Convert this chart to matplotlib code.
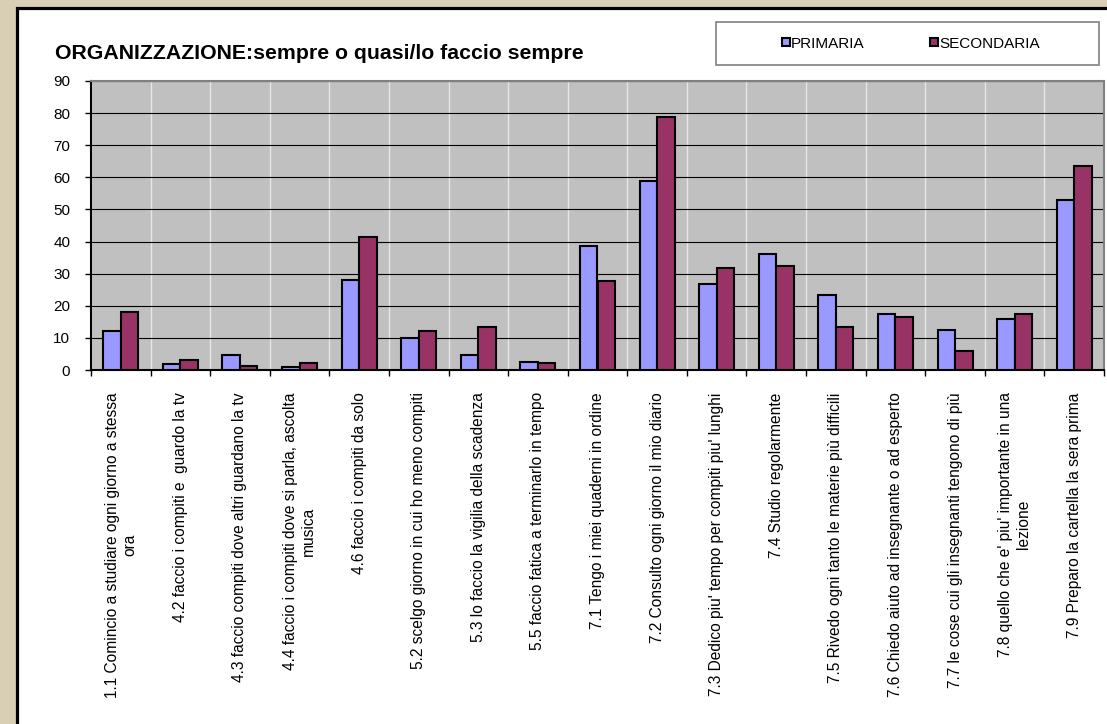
import matplotlib
matplotlib.use("Agg")
import matplotlib.pyplot as plt
from matplotlib.patches import Rectangle
import numpy as np

plt.rcParams['font.family'] = ['Liberation Sans', 'DejaVu Sans']

categories = [
    "1.1 Comincio a studiare ogni giorno a stessa\nora",
    "4.2 faccio i compiti e  guardo la tv",
    "4.3 faccio compiti dove altri guardano la tv",
    "4.4 faccio i compiti dove si parla, ascolta\nmusica",
    "4.6 faccio i compiti da solo",
    "5.2 scelgo giorno in cui ho meno compiti",
    "5.3 lo faccio la vigilia della scadenza",
    "5.5 faccio fatica a terminarlo in tempo",
    "7.1 Tengo i miei quaderni in ordine",
    "7.2 Consulto ogni giorno il mio diario",
    "7.3 Dedico piu' tempo per compiti piu' lunghi",
    "7.4 Studio regolarmente",
    "7.5 Rivedo ogni tanto le materie più difficili",
    "7.6 Chiedo aiuto ad insegnante o ad esperto",
    "7.7 le cose cui gli insegnanti tengono di più",
    "7.8 quello che e' piu' importante in una\nlezione",
    "7.9 Preparo la cartella la sera prima",
]
primaria = [12, 2, 4.6, 1, 28, 10, 4.6, 2.6, 38.7, 59, 26.7, 36, 23.4, 17.3, 12.5, 16, 53]
secondaria = [18, 3, 1.2, 2.1, 41.5, 12, 13.3, 2.1, 27.8, 78.7, 31.7, 32.5, 13.4, 16.6, 5.9, 17.3, 63.6]
series_names = ["PRIMARIA", "SECONDARIA"]
title = "ORGANIZZAZIONE:sempre o quasi/lo faccio sempre"
yticks = [0, 10, 20, 30, 40, 50, 60, 70, 80, 90]

W, H = 1107, 724
fig = plt.figure(figsize=(W / 100, H / 100), dpi=100)
fig.patch.set_facecolor('#d8cfb4')

# white chart panel with black frame
panel = Rectangle((16.5 / W, -0.1), 1.2, 1 - 8 / H + 0.1, transform=fig.transFigure,
                  facecolor='white', edgecolor='black', linewidth=2.3, zorder=-10)
fig.patches.append(panel)

left, right, top, bottom = 91, 1104, 81, 370
ax = fig.add_axes([left / W, 1 - bottom / H, (right - left) / W, (bottom - top) / H])
ax.set_facecolor('#c0c0c0')

x = np.arange(len(categories))
bw = 0.294
b1 = ax.bar(x - bw / 2, primaria, bw, color='#9999ff', edgecolor='black', linewidth=1.5, zorder=3,
            label=series_names[0])
b2 = ax.bar(x + bw / 2, secondaria, bw, color='#993366', edgecolor='black', linewidth=1.5, zorder=3,
            label=series_names[1])

ax.set_xlim(-0.5, len(categories) - 0.5)
ax.set_ylim(0, 90)
ax.set_yticks(yticks)
ax.tick_params(axis='y', length=4, width=1, pad=11, labelsize=11, direction='out')
ax.yaxis.grid(True, color='black', linewidth=0.8, zorder=1)

bounds = np.arange(len(categories) + 1) - 0.5
ax.set_xticks(bounds)
ax.set_xticklabels([''] * len(bounds))
ax.tick_params(axis='x', which='major', length=4, width=1, direction='out')
ax.xaxis.grid(True, which='major', color='#e6e6e6', linewidth=1, zorder=1)
ax.set_xticks(x, categories, minor=True)
ax.tick_params(axis='x', which='minor', length=0, pad=16, labelsize=11.2)
for lbl in ax.get_xticklabels(minor=True):
    lbl.set_rotation(90)
    lbl.set_va('top')
    lbl.set_ha('center')
    lbl.set_multialignment('center')
ax.set_axisbelow(True)

for s in ['left', 'bottom']:
    ax.spines[s].set_color('black')
    ax.spines[s].set_linewidth(1.5)
for s in ['top', 'right']:
    ax.spines[s].set_color('#808080')
    ax.spines[s].set_linewidth(1.5)

fig.text(55 / W, 1 - 59 / H, title, fontsize=15.3, fontweight='bold', va='baseline', ha='left')

# legend box
lx0, lx1, ly0, ly1 = 716, 1099, 22, 65
fig.patches.append(Rectangle((lx0 / W, 1 - ly1 / H), (lx1 - lx0) / W, (ly1 - ly0) / H,
                             transform=fig.transFigure, facecolor='white', edgecolor='#808080',
                             linewidth=1.2, zorder=-5))
leg = fig.legend(handles=[b1, b2], labels=series_names, ncol=2, frameon=False,
                 loc='center', bbox_to_anchor=((lx0 + lx1) / 2 / W + 3.5 / W, 1 - (ly0 + ly1) / 2 / H),
                 fontsize=11, handlelength=0.5, handleheight=0.5, handletextpad=0.1,
                 columnspacing=4.3, borderaxespad=0)

fig.savefig('out.png', dpi=100)
